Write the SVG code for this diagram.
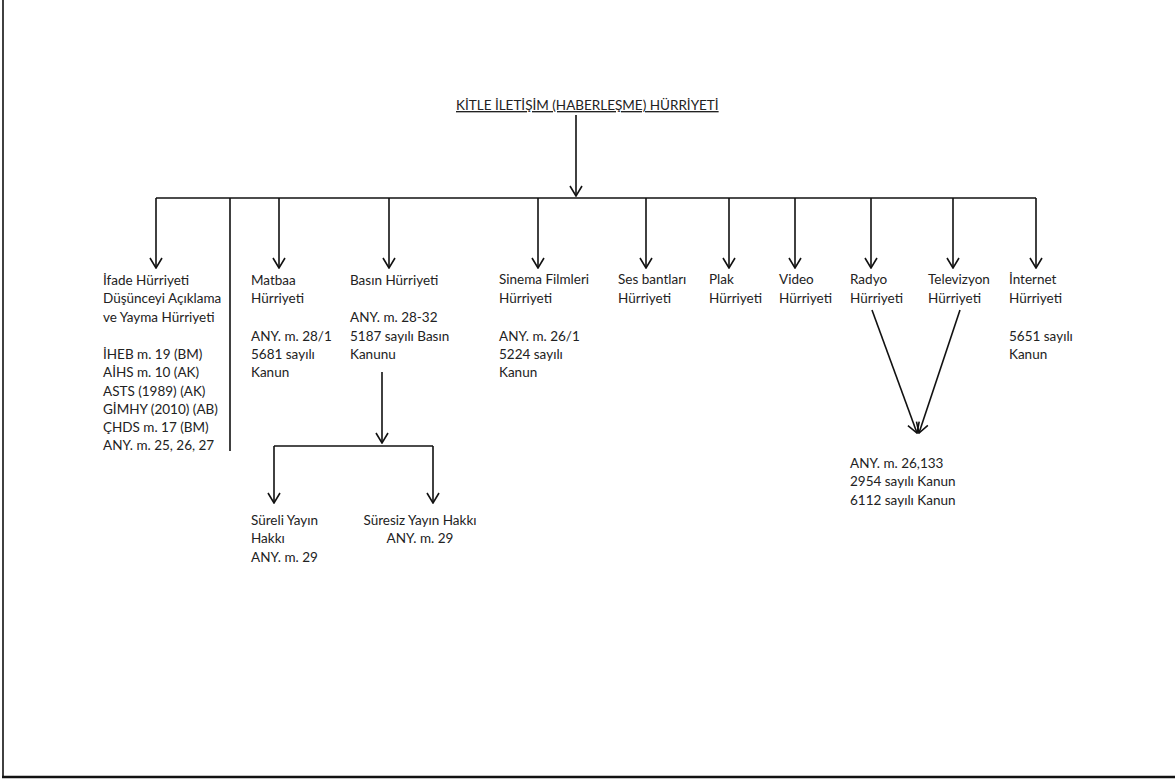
<svg xmlns="http://www.w3.org/2000/svg" width="1175" height="782" viewBox="0 0 1175 782">
<defs>
<marker id="arr" markerUnits="userSpaceOnUse" viewBox="0 0 12 14" markerWidth="12" markerHeight="14" refX="11" refY="7" orient="auto">
<path d="M1,1 L11,7 L1,13" fill="none" stroke="#111" stroke-width="1.6"/>
</marker>
<style>
.ln{stroke:#111;stroke-width:1.6;fill:none}
.ar{stroke:#111;stroke-width:1.6;fill:none;marker-end:url(#arr)}
text{font-family:Lato,"Liberation Sans",sans-serif;font-size:13.5px;fill:#222}
.t{text-decoration:underline}
</style>
</defs>
<rect width="1175" height="782" fill="#fff"/>
<g id="frame">
<line x1="3" y1="0" x2="3" y2="778" class="ln"/>
<line x1="2" y1="777" x2="1175" y2="777" stroke="#111" stroke-width="2.5"/>
</g>
<g id="connectors">
<line x1="576" y1="115" x2="576" y2="196" class="ar"/>
<line x1="156" y1="198" x2="1036" y2="198" class="ln"/>
<line x1="156" y1="198" x2="156" y2="268" class="ar"/>
<line x1="230" y1="198" x2="230" y2="451" class="ln"/>
<line x1="279" y1="198" x2="279" y2="268" class="ar"/>
<line x1="389" y1="198" x2="389" y2="268" class="ar"/>
<line x1="538" y1="198" x2="538" y2="268" class="ar"/>
<line x1="646" y1="198" x2="646" y2="268" class="ar"/>
<line x1="729" y1="198" x2="729" y2="268" class="ar"/>
<line x1="795" y1="198" x2="795" y2="268" class="ar"/>
<line x1="871" y1="198" x2="871" y2="268" class="ar"/>
<line x1="953" y1="198" x2="953" y2="268" class="ar"/>
<line x1="1036" y1="198" x2="1036" y2="268" class="ar"/>
<line x1="382" y1="372" x2="382" y2="443" class="ar"/>
<line x1="274" y1="446" x2="433" y2="446" class="ln"/>
<line x1="274" y1="446" x2="274" y2="503" class="ar"/>
<line x1="433" y1="446" x2="433" y2="503" class="ar"/>
<line x1="872" y1="310" x2="917" y2="433" class="ar"/>
<line x1="960" y1="310" x2="919" y2="433" class="ar"/>
</g>
<g id="title"><text x="456" y="110" class="t">KİTLE İLETİŞİM (HABERLEŞME) HÜRRİYETİ</text></g>
<g id="ifade">
<text x="103" y="285">İfade Hürriyeti</text>
<text x="103" y="303">Düşünceyi Açıklama</text>
<text x="103" y="322">ve Yayma Hürriyeti</text>
<text x="103" y="359">İHEB m. 19 (BM)</text>
<text x="103" y="377">AİHS m. 10 (AK)</text>
<text x="103" y="396">ASTS (1989) (AK)</text>
<text x="103" y="414">GİMHY (2010) (AB)</text>
<text x="103" y="432">ÇHDS m. 17 (BM)</text>
<text x="103" y="450">ANY. m. 25, 26, 27</text>
</g>
<g id="matbaa">
<text x="251" y="285">Matbaa</text>
<text x="251" y="303">Hürriyeti</text>
<text x="251" y="341">ANY. m. 28/1</text>
<text x="251" y="359">5681 sayılı</text>
<text x="251" y="377">Kanun</text>
</g>
<g id="basin">
<text x="350" y="285">Basın Hürriyeti</text>
<text x="350" y="322">ANY. m. 28-32</text>
<text x="350" y="341">5187 sayılı Basın</text>
<text x="350" y="359">Kanunu</text>
</g>
<g id="sureli">
<text x="251" y="525">Süreli Yayın</text>
<text x="251" y="543">Hakkı</text>
<text x="251" y="562">ANY. m. 29</text>
</g>
<g id="suresiz">
<text x="420" y="525" text-anchor="middle">Süresiz Yayın Hakkı</text>
<text x="420" y="543" text-anchor="middle">ANY. m. 29</text>
</g>
<g id="sinema">
<text x="499" y="284">Sinema Filmleri</text>
<text x="499" y="303">Hürriyeti</text>
<text x="499" y="341">ANY. m. 26/1</text>
<text x="499" y="359">5224 sayılı</text>
<text x="499" y="377">Kanun</text>
</g>
<g id="ses">
<text x="618" y="284">Ses bantları</text>
<text x="618" y="303">Hürriyeti</text>
</g>
<g id="plak">
<text x="709" y="284">Plak</text>
<text x="709" y="303">Hürriyeti</text>
</g>
<g id="video">
<text x="779" y="284">Video</text>
<text x="779" y="303">Hürriyeti</text>
</g>
<g id="radyo">
<text x="850" y="284">Radyo</text>
<text x="850" y="303">Hürriyeti</text>
</g>
<g id="televizyon">
<text x="928" y="284">Televizyon</text>
<text x="928" y="303">Hürriyeti</text>
</g>
<g id="internet">
<text x="1009" y="284">İnternet</text>
<text x="1009" y="303">Hürriyeti</text>
<text x="1009" y="341">5651 sayılı</text>
<text x="1009" y="359">Kanun</text>
</g>
<g id="radyotv">
<text x="850" y="468">ANY. m. 26,133</text>
<text x="850" y="486">2954 sayılı Kanun</text>
<text x="850" y="505">6112 sayılı Kanun</text>
</g>
</svg>
